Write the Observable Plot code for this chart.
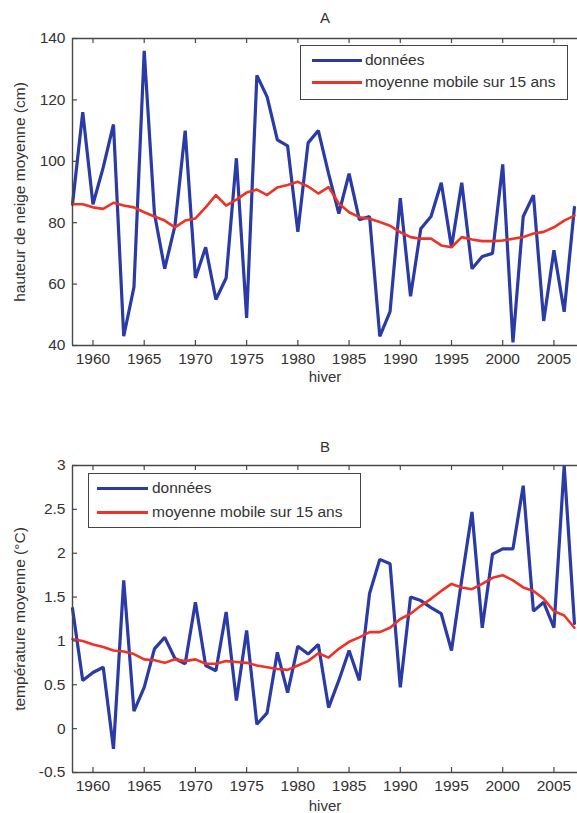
<!DOCTYPE html>
<html><head><meta charset="utf-8">
<script src="https://cdn.jsdelivr.net/npm/d3@7"></script>
<script src="https://cdn.jsdelivr.net/npm/@observablehq/plot@0.6"></script>
<style>
html,body{margin:0;padding:0;background:#fff;}
body{width:577px;height:813px;overflow:hidden;font-family:"Liberation Sans",Arial,sans-serif;}
#wrap{position:relative;width:577px;height:813px;}
#wrap svg{display:block;}
.legend{position:absolute;box-sizing:border-box;border:1.5px solid #444;background:#fff;font-size:15.5px;color:#333;}
.legend .row{position:absolute;height:0;}
.legend .sw{position:absolute;height:3px;top:-1.5px;}
.legend .lb{position:absolute;top:-9px;line-height:18px;white-space:nowrap;}
</style></head><body><div id="wrap"></div>
<script>
const years = [1958,1959,1960,1961,1962,1963,1964,1965,1966,1967,
  1968,1969,1970,1971,1972,1973,1974,1975,1976,1977,
  1978,1979,1980,1981,1982,1983,1984,1985,1986,1987,
  1988,1989,1990,1991,1992,1993,1994,1995,1996,1997,
  1998,1999,2000,2001,2002,2003,2004,2005,2006,2007];

// Panel A: hauteur de neige moyenne (cm)
const snowData = [86,116,86,98,112,43,59,136,83,65,
  79,110,62,72,55,62,101,49,128,121,
  107,105,77,106,110,96,83,96,81,82,
  43,51,88,56,78,82,93,72,93,65,
  69,70,99,41,82,89,48,71,51,85];
const snowAvg = [86,86,85,84.5,86.5,85.6,85,83.4,82,80.7,
  78.5,80.7,81.4,85,89,85.6,87.5,89.8,90.8,89,
  91.5,92.3,93.3,91.8,89.5,91.6,86.3,83.4,81.8,81.3,
  80.2,79,76.9,75.3,74.8,74.8,72.6,72,75.3,74.5,
  74,74,74.2,74.8,75.3,76.5,77,78.5,80.7,82.3];

// Panel B: température moyenne (°C)
const tempData = [1.37,0.55,0.64,0.70,-0.23,1.69,0.20,0.47,0.91,1.04,
  0.80,0.74,1.44,0.72,0.66,1.33,0.32,1.12,0.05,0.18,
  0.87,0.41,0.94,0.85,0.96,0.24,0.55,0.89,0.55,1.54,
  1.93,1.88,0.47,1.50,1.46,1.38,1.31,0.89,1.70,2.47,
  1.15,1.99,2.05,2.05,2.77,1.34,1.44,1.15,3.0,1.2];
const tempAvg = [1.02,1.0,0.96,0.93,0.89,0.88,0.85,0.79,0.78,0.75,
  0.79,0.77,0.79,0.74,0.74,0.77,0.76,0.75,0.72,0.70,
  0.68,0.67,0.72,0.77,0.86,0.81,0.91,0.99,1.04,1.10,
  1.10,1.15,1.25,1.31,1.40,1.48,1.57,1.65,1.61,1.59,
  1.65,1.72,1.75,1.69,1.61,1.57,1.48,1.34,1.29,1.15];

const xTicks = [1960,1965,1970,1975,1980,1985,1990,1995,2000,2005];
const xDomain = [1958, 2007.3];
const snowTicks = [40,60,80,100,120,140];
const snowDomain = [40,140];
const tempTicks = [-0.5,0,0.5,1,1.5,2,2.5,3];
const tempDomain = [-0.5,3];

const seriesNames = ["données", "moyenne mobile sur 15 ans"];
const titles = ["A", "B"];
const xLabel = "hiver";
const yLabels = ["hauteur de neige moyenne (cm)", "température moyenne (°C)"];

const BLUE = "#2a3aa6";
const RED = "#ee3226";
const INK = "#333";
const AXIS = "#484848";
const FONT = "'Liberation Sans', Arial, sans-serif";
const W = 577, ML = 72;

function panel({values, avg, yDomain, yTicks, yLabel, title, height, marginTop, marginBottom, titleDy, xlabDy}) {
  const ih = height - marginTop - marginBottom;
  const iw = W - ML;
  const tl = 5;
  const ty = tl * (yDomain[1] - yDomain[0]) / ih;
  const tx = tl * (xDomain[1] - xDomain[0]) / iw;
  const raw = years.map((y, i) => ({year: y, v: values[i]}));
  const mov = years.map((y, i) => ({year: y, v: avg[i]}));
  return Plot.plot({
    width: W, height, marginLeft: ML, marginRight: 0, marginTop, marginBottom,
    style: {fontFamily: FONT, fontSize: "15.5px", color: INK, background: "#fff", overflow: "visible"},
    x: {domain: xDomain, ticks: xTicks, tickFormat: d => String(d), tickSize: 0, tickPadding: 7, label: null},
    y: {domain: yDomain, ticks: yTicks, tickFormat: d => String(d), tickSize: 0, tickPadding: 7, label: null},
    marks: [
      Plot.lineY(raw, {x: "year", y: "v", stroke: BLUE, strokeWidth: 3.2, strokeLinejoin: "miter"}),
      Plot.lineY(mov, {x: "year", y: "v", stroke: RED, strokeWidth: 2.6}),
      Plot.ruleY([yDomain[1]], {stroke: AXIS, strokeWidth: 1.4}),
      Plot.ruleY([yDomain[0]], {stroke: AXIS, strokeWidth: 1.4}),
      Plot.ruleX([xDomain[0]], {stroke: AXIS, strokeWidth: 1.4}),
      Plot.ruleX(xTicks, {x: d => d, y1: yDomain[0], y2: yDomain[0] + ty, stroke: AXIS, strokeWidth: 1.2}),
      Plot.ruleX(xTicks, {x: d => d, y1: yDomain[1], y2: yDomain[1] - ty, stroke: AXIS, strokeWidth: 1.2}),
      Plot.ruleY(yTicks, {y: d => d, x1: xDomain[0], x2: xDomain[0] + tx, stroke: AXIS, strokeWidth: 1.2}),
      Plot.text([title], {text: d => d, frameAnchor: "top", dy: titleDy, fontSize: 15, fill: INK, textAnchor: "middle", lineAnchor: "middle"}),
      Plot.text([xLabel], {text: d => d, frameAnchor: "bottom", dy: xlabDy, fontSize: 15, fill: INK, textAnchor: "middle", lineAnchor: "middle"}),
      Plot.text([yLabel], {text: d => d, frameAnchor: "left", dx: -52, rotate: -90, fontSize: 15.5, fill: INK, textAnchor: "middle", lineAnchor: "middle"})
    ]
  });
}

const wrap = document.getElementById("wrap");
wrap.appendChild(panel({values: snowData, avg: snowAvg, yDomain: snowDomain, yTicks: snowTicks, yLabel: yLabels[0], title: titles[0],
  height: 390, marginTop: 38, marginBottom: 45, titleDy: -20, xlabDy: 32}));
wrap.appendChild(panel({values: tempData, avg: tempAvg, yDomain: tempDomain, yTicks: tempTicks, yLabel: yLabels[1], title: titles[1],
  height: 423, marginTop: 75, marginBottom: 41, titleDy: -18, xlabDy: 34}));

function legend(box, rows) {
  const d = document.createElement("div");
  d.className = "legend";
  Object.assign(d.style, {left: box.left + "px", top: box.top + "px", width: box.width + "px", height: box.height + "px"});
  rows.forEach(r => {
    const row = document.createElement("div");
    row.className = "row";
    row.style.top = r.y + "px";
    row.style.left = "0px";
    const sw = document.createElement("div");
    sw.className = "sw";
    Object.assign(sw.style, {left: r.sx + "px", width: r.sw + "px", background: r.color});
    const lb = document.createElement("div");
    lb.className = "lb";
    lb.style.left = r.tx + "px";
    lb.textContent = r.label;
    row.appendChild(sw); row.appendChild(lb);
    d.appendChild(row);
  });
  wrap.appendChild(d);
}
legend({left: 300, top: 45, width: 268, height: 55}, [
  {y: 14, sx: 11, sw: 50, tx: 64, color: BLUE, label: seriesNames[0]},
  {y: 36, sx: 11, sw: 50, tx: 64, color: RED, label: seriesNames[1]}
]);
legend({left: 88, top: 473, width: 273, height: 55}, [
  {y: 14, sx: 8, sw: 51, tx: 63, color: BLUE, label: seriesNames[0]},
  {y: 38, sx: 8, sw: 51, tx: 63, color: RED, label: seriesNames[1]}
]);
</script></body></html>
